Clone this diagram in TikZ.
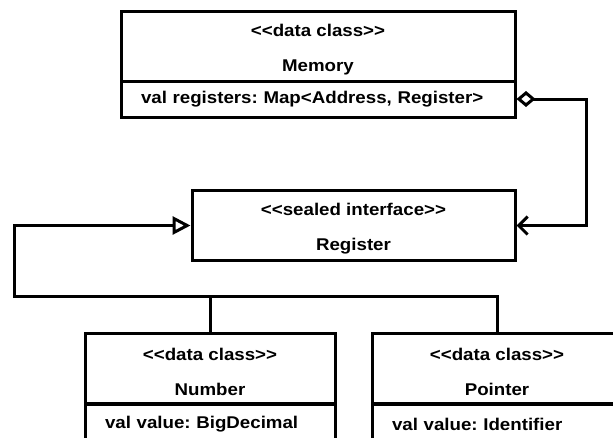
\documentclass[tikz,border=0pt]{standalone}
\usepackage{fontspec}
\setmainfont{Liberation Sans}[FakeStretch=1.1]
\usetikzlibrary{arrows.meta}
\frenchspacing

\newcommand{\stereo}[1]{\rule{0pt}{19pt}<{}<#1>{}>}

\begin{document}
\begin{tikzpicture}[
    x=1pt, y=-1pt,
    classhead/.style={draw, line width=3pt, align=center, minimum height=70pt,
        font=\bfseries\fontsize{17}{35}\selectfont},
    classattr/.style={draw, line width=3pt, minimum height=36pt, inner xsep=20pt,
        align=left, font=\bfseries\fontsize{17}{19}\selectfont},
    assoc/.style={line width=3pt,
        {Diamond[open, length=19pt, width=16pt]}-{Straight Barb[length=9pt, width=18pt]}},
    inherit/.style={line width=3pt, -{Triangle[open, length=18pt, width=18pt]}}
]
\path[use as bounding box, clip] (0,0) rectangle (613,437);

\node[classhead, minimum width=394pt] (memory) at (318,46.5) {\stereo{data class}\\Memory};
\node[classattr, text width=354pt] (memattr) at (318,99) {val registers: Map<Address, Register>};

\node[classhead, minimum width=323pt] (register) at (353.5,225.5) {\stereo{sealed interface}\\Register};

\node[classhead, minimum width=250pt] (number) at (210,368.5) {\stereo{data class}\\Number};
\node[classattr, text width=210pt, minimum height=40pt] (numattr) at (210,424) {val value: BigDecimal};

\node[classhead, minimum width=250pt] (pointer) at (497,368.5) {\stereo{data class}\\Pointer};
\node[classattr, text width=210pt, minimum height=40pt] (ptrattr) at (497,424) {val value: Identifier};

\coordinate (bend) at (14,296);

\draw[assoc] (memattr.east) -- ++(70,0) |- (register.east);
\draw[inherit] (number.north) |- (bend) |- (register.west);
\draw[line width=3pt] (pointer.north) |- (bend);

\end{tikzpicture}
\end{document}
